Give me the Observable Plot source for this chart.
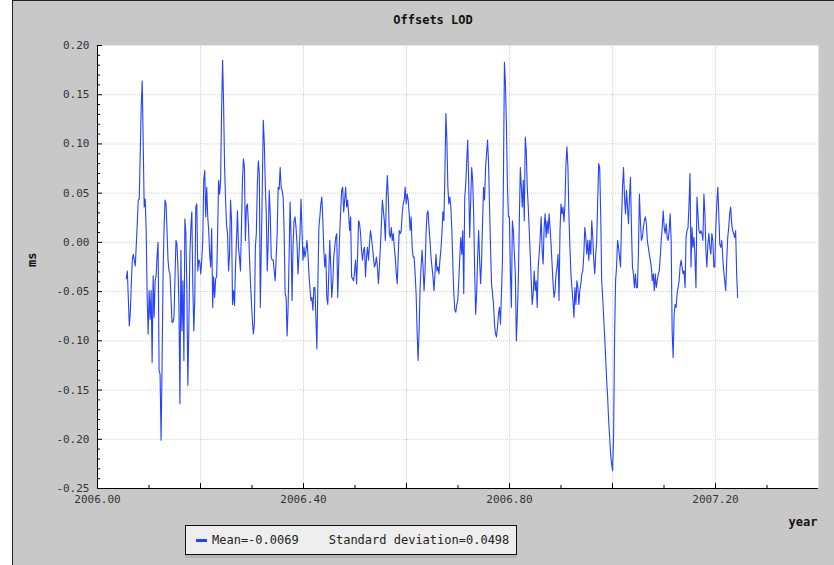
<!DOCTYPE html>
<html>
<head>
<meta charset="utf-8">
<script src="https://cdn.jsdelivr.net/npm/d3@7"></script>
<script src="https://cdn.jsdelivr.net/npm/@observablehq/plot@0.6"></script>
<style>
  body { margin: 0; background: #fff; }
  #fig { position: relative; width: 834px; height: 565px; overflow: hidden;
         font-family: "DejaVu Sans Mono", monospace; }
  #panel { position: absolute; left: 12px; top: 0; right: 0; bottom: 0;
           background: #c8c8c8; border-left: 1px solid #222; border-top: 1px solid #222; }
  #chart { position: absolute; left: 0; top: 0; }
  #title { position: absolute; top: 13px; left: 433px; transform: translateX(-50%);
           font-weight: bold; font-size: 12px; color: #111; white-space: nowrap; }
  #legend { position: absolute; left: 185px; top: 525px; width: 330px; height: 28px;
            background: #eeeeee; border: 1px solid #111; box-shadow: 0 3px 0 #b4b4b4;
            font-size: 12px; color: #222; display: flex; align-items: center; white-space: nowrap; }
  #legend .key { display: inline-block; width: 11px; height: 3px; background: #2442ff;
                 margin-left: 10px; margin-right: 5px; }
  #legend .gap { display: inline-block; width: 30px; }
</style>
</head>
<body>
<div id="fig">
  <div id="panel"></div>
  <div id="chart"></div>
  <div id="title"></div>
  <div id="legend"></div>
</div>
<script>
// Length-of-day offsets (ms), regularly sampled between the first and last epoch
const firstEpoch = 2006.056;
const lastEpoch = 2007.243;
const offsets = [
  -0.037,-0.029,-0.057,-0.085,-0.071,-0.042,-0.018,-0.012,-0.018,-0.024,
  -0.003,0.019,0.043,0.044,0.090,0.139,0.164,0.100,0.036,0.044,
  0.012,-0.056,-0.093,-0.049,-0.078,-0.049,-0.122,-0.034,-0.076,-0.039,
  -0.034,-0.013,0.000,-0.130,-0.134,-0.201,-0.125,-0.032,0.014,0.043,
  0.039,0.012,-0.018,-0.029,-0.032,-0.057,-0.081,-0.081,-0.076,-0.037,
  0.002,-0.002,-0.025,-0.063,-0.164,-0.008,-0.090,-0.039,-0.120,0.024,
  0.009,-0.049,-0.145,-0.086,-0.013,0.015,0.031,-0.046,-0.090,-0.056,
  0.036,0.039,-0.029,-0.018,-0.020,-0.032,-0.018,0.002,0.063,0.073,
  0.026,0.056,0.026,0.012,-0.012,-0.025,0.014,-0.066,-0.035,-0.056,
  -0.037,-0.035,0.010,0.063,0.049,0.063,0.134,0.185,0.141,0.076,
  0.043,0.017,0.009,-0.029,-0.013,0.043,0.022,-0.063,-0.049,-0.064,
  -0.024,0.002,0.032,-0.005,-0.015,-0.029,0.015,0.063,0.085,0.076,
  0.002,0.036,0.039,0.019,-0.012,-0.039,-0.059,-0.079,-0.093,-0.083,
  -0.005,0.009,0.059,0.083,0.070,-0.066,-0.005,0.056,0.124,0.102,
  0.059,0.029,-0.029,0.002,0.053,0.029,-0.015,-0.018,-0.018,-0.029,
  -0.039,-0.015,0.010,0.056,0.054,0.076,0.056,0.053,0.046,0.012,
  -0.052,-0.056,-0.095,-0.066,-0.015,0.041,0.005,-0.059,-0.003,
  0.022,0.026,0.015,-0.002,-0.032,-0.012,0.009,0.044,0.012,-0.018,
  -0.005,-0.015,-0.008,0.002,-0.012,-0.032,-0.046,-0.059,-0.056,-0.069,
  -0.046,-0.046,-0.076,-0.108,-0.042,0.015,0.026,0.039,0.046,0.022,
  -0.008,-0.025,-0.012,-0.056,-0.063,-0.032,0.002,-0.025,-0.056,-0.042,
  -0.015,-0.005,0.005,0.009,-0.056,-0.022,0.009,0.032,0.053,0.056,
  0.031,0.043,0.056,0.036,0.043,0.029,0.012,0.026,-0.035,-0.037,
  -0.039,-0.029,-0.018,-0.042,-0.015,0.022,0.019,0.009,-0.008,-0.018,
  -0.008,-0.005,-0.035,-0.015,-0.005,-0.018,-0.002,0.012,0.005,-0.005,
  -0.015,-0.025,-0.022,-0.015,-0.025,-0.042,-0.025,-0.005,0.019,0.043,
  0.032,0.022,0.002,0.046,0.068,0.046,0.009,0.005,0.015,0.002,
  0.009,-0.005,-0.015,-0.032,-0.042,-0.012,0.012,0.009,0.012,0.029,
  0.039,0.043,0.056,0.039,0.049,0.043,0.029,0.012,0.026,-0.005,
  -0.015,-0.015,-0.032,-0.052,-0.090,-0.120,-0.090,-0.046,-0.025,-0.008,
  -0.025,-0.049,-0.029,0.009,0.029,0.032,0.015,0.002,-0.015,-0.025,
  -0.035,-0.049,-0.032,-0.012,-0.029,-0.025,-0.032,-0.018,-0.007,0.009,
  0.031,0.022,0.070,0.131,0.104,0.056,0.039,0.046,0.036,0.012,
  -0.022,-0.052,-0.069,-0.071,-0.063,-0.059,-0.039,-0.015,0.005,
  -0.012,0.012,-0.052,0.046,0.059,0.083,0.104,0.059,0.005,0.043,
  0.076,0.063,0.029,-0.029,-0.073,-0.052,-0.015,0.012,-0.018,-0.042,
  -0.018,0.022,0.056,0.043,0.076,0.090,0.104,0.080,0.036,-0.005,
  -0.042,-0.052,-0.063,-0.083,-0.093,-0.096,-0.086,-0.073,-0.066,-0.083,
  -0.052,-0.018,0.066,0.183,0.161,0.120,0.059,0.026,0.026,-0.029,
  -0.066,0.022,0.012,-0.012,-0.032,-0.100,-0.073,-0.039,0.022,0.076,
  0.056,0.036,0.063,0.022,0.107,0.093,0.056,0.036,0.012,-0.012,
  -0.039,-0.063,-0.052,-0.029,-0.049,-0.039,-0.066,-0.025,-0.012,0.005,
  0.026,-0.008,-0.022,0.015,0.029,0.005,0.022,0.009,0.029,0.015,
  -0.002,-0.022,-0.042,-0.056,-0.049,-0.032,-0.025,-0.012,-0.059,0.012,
  0.039,0.029,0.036,0.021,0.039,0.080,0.097,0.076,0.026,-0.005,
  -0.032,-0.046,-0.059,-0.076,-0.046,-0.063,-0.039,-0.046,-0.063,-0.049,
  -0.042,-0.032,-0.029,-0.012,0.015,0.005,-0.012,0.002,-0.018,0.002,
  -0.012,0.022,0.005,-0.018,-0.032,-0.012,0.002,0.043,0.080,0.076,
  0.029,
  -0.039,-0.056,-0.076,-0.096,-0.117,-0.140,-0.157,-0.181,-0.198,-0.215,
  -0.225,-0.232,-0.195,-0.096,-0.039,-0.025,0.002,-0.005,-0.015,-0.025,
  0.022,0.056,0.076,0.046,0.029,0.053,0.036,0.019,0.046,0.066,
  0.015,-0.025,-0.032,-0.046,-0.032,-0.046,-0.046,-0.012,0.049,0.022,
  0.002,0.005,0.015,0.022,0.026,0.019,0.002,-0.005,-0.012,-0.018,
  -0.025,-0.039,-0.032,-0.049,-0.032,-0.046,-0.039,-0.032,-0.029,-0.015,
  0.002,0.015,0.032,0.015,0.009,0.019,0.005,0.002,0.012,0.029,
  0.002,-0.090,-0.117,-0.073,-0.063,-0.066,-0.052,-0.046,-0.039,-0.025,
  -0.018,-0.025,-0.032,-0.029,-0.046,0.005,0.012,0.015,0.039,0.070,
  -0.025,0.015,-0.005,0.005,-0.015,-0.046,0.046,0.029,0.012,0.009,
  0.012,0.009,0.002,0.049,0.029,-0.008,-0.025,-0.002,0.009,-0.005,
  -0.012,0.009,0.002,-0.025,-0.025,0.015,0.039,0.056,0.029,-0.002,
  -0.005,0.002,-0.015,-0.029,-0.039,-0.049,-0.018,0.005,0.015,0.029,
  0.036,0.019,0.012,0.009,0.005,0.012,-0.032,-0.056
];

// Summary statistics shown in the legend
const meanValue = -0.0069;
const stdDev = 0.0498;

// Axis domains and tick positions
const xDomain = [2006.0, 2007.4];
const yDomain = [-0.25, 0.20];
const xLabelTicks = [2006.0, 2006.4, 2006.8, 2007.2];
const xGridTicks = [2006.2, 2006.4, 2006.6, 2006.8, 2007.0, 2007.2];
const xMinorTicks = [2006.1, 2006.3, 2006.5, 2006.7, 2006.9, 2007.1, 2007.3];
const yMajorTicks = [0.20, 0.15, 0.10, 0.05, 0.00, -0.05, -0.10, -0.15, -0.20, -0.25];
const yMinorTicks = d3.range(-24, 20).filter(k => k % 5 !== 0).map(k => k / 100);

const titleText = "Offsets LOD";
const yLabel = "ms";
const xLabel = "year";

const step = (lastEpoch - firstEpoch) / (offsets.length - 1);
const series = offsets.map((v, i) => ({year: firstEpoch + i * step, ms: v}));

const W = 834, H = 565;
const mL = 97, mR = 16, mT = 45, mB = 77;
const plotW = W - mL - mR, plotH = H - mT - mB;
const fmt = d => d.toFixed(2);

const chart = Plot.plot({
  width: W, height: H,
  marginLeft: mL, marginRight: mR, marginTop: mT, marginBottom: mB,
  x: {domain: xDomain},
  y: {domain: yDomain},
  style: {background: "transparent", fontFamily: "DejaVu Sans Mono, monospace", fontSize: "11px", color: "#333"},
  marks: [
    Plot.frame({fill: "white", stroke: null}),
    Plot.ruleX(xGridTicks, {stroke: "#d2d2d2", strokeDasharray: "1,1"}),
    Plot.ruleY(yMajorTicks.slice(1, -1), {stroke: "#d2d2d2", strokeDasharray: "1,1"}),
    Plot.tickY(yMinorTicks, {stroke: "#000", insetRight: plotW - 3}),
    Plot.tickY(yMajorTicks, {stroke: "#000", insetRight: plotW - 5}),
    Plot.tickX(xMinorTicks, {stroke: "#000", insetTop: plotH - 3}),
    Plot.tickX(xGridTicks, {stroke: "#000", insetTop: plotH - 5}),
    Plot.axisY({ticks: yMajorTicks, tickSize: 0, tickPadding: 8, tickFormat: fmt, label: null}),
    Plot.axisX({ticks: xLabelTicks, tickSize: 0, tickPadding: 7, tickFormat: fmt, label: null}),
    Plot.line(series, {x: "year", y: "ms", stroke: "#2442ff", strokeWidth: 1.1}),
    Plot.ruleX([xDomain[0]], {stroke: "#000"}),
    Plot.ruleY([yDomain[0]], {stroke: "#000"}),
    Plot.text([yLabel], {frameAnchor: "left", dx: -65, rotate: -90, fontWeight: "bold", fontSize: 12, fill: "#111"}),
    Plot.text([xLabel], {frameAnchor: "bottom-right", dx: -1, dy: 37, fontWeight: "bold", fontSize: 12, fill: "#111"})
  ]
});
document.getElementById("chart").append(chart);

document.getElementById("title").textContent = titleText;
const legend = document.getElementById("legend");
legend.innerHTML = `<span class="key"></span><span>Mean=${meanValue.toFixed(4)}</span><span class="gap"></span><span>Standard deviation=${stdDev.toFixed(4)}</span>`;
</script>
</body>
</html>
